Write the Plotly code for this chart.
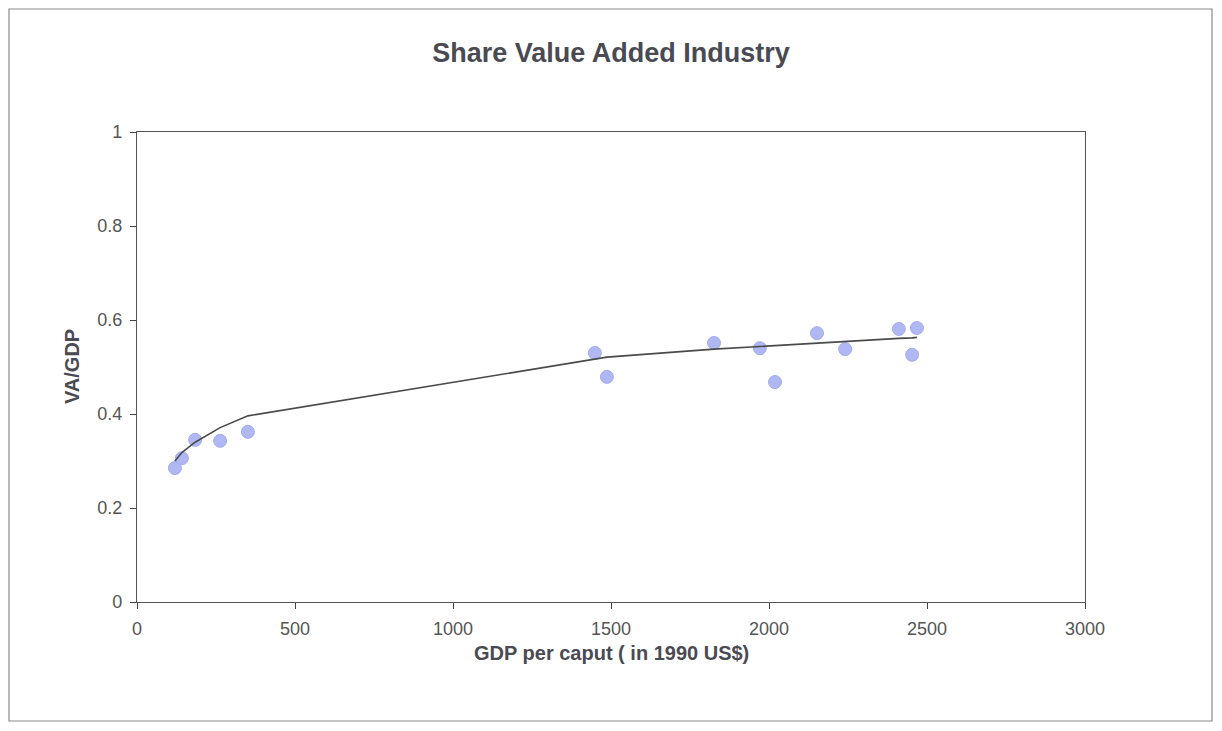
import plotly.graph_objects as go

# Data
gdp_per_caput = [120, 142, 184, 263, 351, 1449, 1487, 1826, 1971, 2019, 2152, 2241, 2411, 2453, 2468]
va_gdp = [0.285, 0.306, 0.345, 0.343, 0.362, 0.530, 0.479, 0.551, 0.540, 0.468, 0.572, 0.538, 0.581, 0.526, 0.583]
trend_values = [0.300, 0.318, 0.340, 0.371, 0.396, 0.518, 0.521, 0.538, 0.544, 0.546, 0.551, 0.555, 0.561, 0.562, 0.563]

x_ticks = [0, 500, 1000, 1500, 2000, 2500, 3000]
y_ticks = [0, 0.2, 0.4, 0.6, 0.8, 1]
y_tick_labels = ["0", "0.2", "0.4", "0.6", "0.8", "1"]

# The page puts the figure 8px in from the top-left corner; keep it inside the window
OFF = 8
W, H = 1222 - 2 * OFF, 731 - 2 * OFF
L = 137 - OFF
T = 132 - OFF
R = W - (1085 - OFF)
B = H - (602 - OFF)
PW, PH = W - L - R, H - T - B

fig = go.Figure()
fig.add_trace(go.Scatter(
    x=gdp_per_caput, y=va_gdp, mode="markers",
    marker=dict(size=13, color="#b0b8f3", line=dict(color="#a2acee", width=1)),
    showlegend=False, hoverinfo="x+y"))
fig.add_trace(go.Scatter(
    x=gdp_per_caput, y=trend_values, mode="lines",
    line=dict(color="#4a4a4a", width=1.6),
    showlegend=False, hoverinfo="x+y"))

font_family = "Liberation Sans, Arial, sans-serif"
fig.update_layout(
    width=W, height=H,
    margin=dict(l=L, r=R, t=T, b=B, autoexpand=False),
    paper_bgcolor="white", plot_bgcolor="white",
    font=dict(family=font_family, color="#444444"),
    title=dict(text="<b>Share Value Added Industry</b>", x=(L + 0.5 * PW) / W,
               xanchor="center", y=1 - (53 - OFF) / H, yanchor="middle",
               font=dict(size=27, color="#4a4a52", family=font_family)),
    xaxis=dict(range=[0, 3000], tickvals=x_ticks, ticks="outside", ticklen=6,
               tickcolor="#444", showgrid=False, zeroline=False,
               showline=True, linecolor="#555", linewidth=1.3, mirror=True,
               tickfont=dict(size=18, color="#555"), ticklabelstandoff=4),
    yaxis=dict(range=[0, 1], tickvals=y_ticks, ticktext=y_tick_labels,
               ticks="outside", ticklen=6, tickcolor="#444",
               showgrid=False, zeroline=False,
               showline=True, linecolor="#555", linewidth=1.3, mirror=True,
               tickfont=dict(size=18, color="#555"), ticklabelstandoff=4),
    annotations=[
        dict(text="<b>GDP per caput ( in 1990 US$)</b>", xref="paper", yref="paper",
             x=0.5, y=-(653 - 602) / PH, xanchor="center", yanchor="middle",
             showarrow=False, font=dict(size=20, color="#4a4a52")),
        dict(text="<b>VA/GDP</b>", xref="paper", yref="paper", textangle=-90,
             x=-(137 - 72) / PW, y=0.5, xanchor="center", yanchor="middle",
             showarrow=False, font=dict(size=20, color="#4a4a52")),
    ],
    shapes=[
        dict(type="rect", xref="paper", yref="paper",
             x0=-(137 - 9) / PW, x1=(1212 - 137) / PW,
             y0=-(721 - 602) / PH, y1=(602 - 9) / PH,
             line=dict(color="#8a8a8a", width=1.2), fillcolor="rgba(0,0,0,0)"),
    ],
)

fig.write_html("out.html")
